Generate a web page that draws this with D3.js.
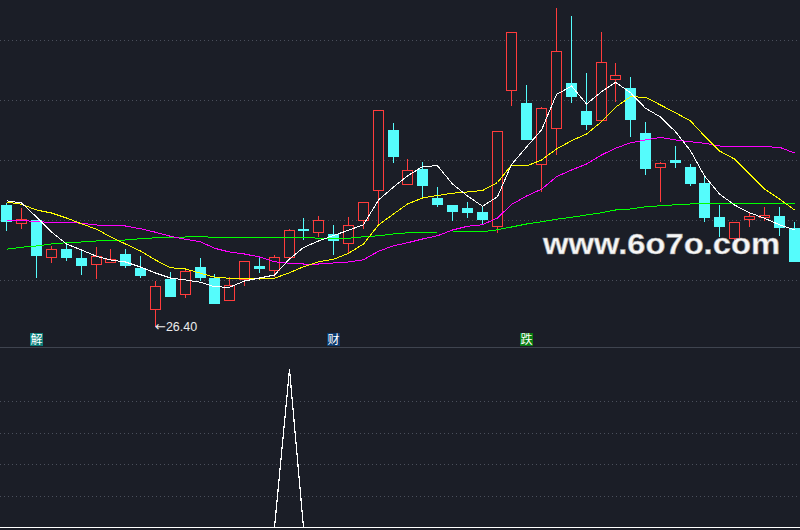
<!DOCTYPE html>
<html>
<head>
<meta charset="utf-8">
<script src="https://cdn.jsdelivr.net/npm/d3@7"></script>
<style>
  html, body { margin: 0; padding: 0; background: #1b1e27; }
  svg { display: block; }
</style>
</head>
<body>
<svg class="chart"></svg>
<script>
// daily candles
const opens = [31.27, 30.54, 30.67, 29.21, 29.51, 29.14, 28.90, 29.00, 29.31, 28.76,
  27.10, 28.31, 27.73, 28.78, 28.34, 27.46, 28.32, 28.83, 28.68, 29.18,
  30.32, 30.20, 30.10, 29.76, 30.66, 31.86, 34.27, 32.10, 32.71, 31.55,
  31.27, 31.15, 30.99, 30.44, 35.86, 35.35, 32.90, 34.34, 36.15, 35.03,
  34.66, 36.32, 35.95, 34.15, 32.77, 33.07, 32.79, 32.15, 30.79, 29.96,
  30.72, 30.79, 30.84, 30.36];
const highs = [31.36, 31.14, 30.67, 29.65, 29.80, 29.45, 29.58, 29.51, 29.51, 29.23,
  28.24, 28.60, 28.75, 29.14, 28.51, 28.38, 29.02, 29.17, 29.27, 30.31,
  30.75, 30.83, 30.46, 30.79, 31.38, 35.06, 34.55, 33.11, 32.98, 31.99,
  31.27, 31.39, 31.19, 34.22, 38.18, 36.07, 35.18, 39.15, 38.83, 36.55,
  38.19, 36.95, 36.39, 34.59, 32.99, 33.63, 32.90, 32.47, 31.26, 30.61,
  31.00, 31.19, 31.18, 30.60];
const lows = [30.24, 30.30, 28.37, 28.94, 29.04, 28.47, 28.31, 29.00, 28.74, 28.36,
  26.40, 27.60, 27.53, 28.24, 27.32, 27.46, 28.04, 28.56, 28.40, 29.18,
  29.87, 30.00, 29.27, 29.30, 30.32, 30.45, 32.96, 32.10, 31.58, 31.18,
  30.64, 30.76, 30.52, 30.14, 35.24, 33.88, 31.80, 33.26, 35.36, 34.27,
  34.60, 35.40, 34.00, 32.48, 31.40, 32.76, 32.04, 30.60, 30.00, 29.55,
  30.40, 30.63, 30.04, 29.00];
const closes = [30.60, 30.70, 29.24, 29.51, 29.16, 28.84, 29.22, 29.09, 28.84, 28.43,
  28.03, 27.60, 28.62, 28.37, 27.32, 28.06, 29.02, 28.72, 29.19, 30.26,
  30.24, 30.66, 29.84, 30.46, 31.38, 35.06, 33.20, 32.66, 32.04, 31.28,
  31.00, 30.96, 30.68, 34.22, 38.18, 33.88, 35.14, 37.42, 35.60, 34.48,
  36.98, 36.46, 34.68, 32.72, 32.95, 32.96, 32.12, 30.75, 30.40, 30.59,
  30.83, 30.88, 30.36, 29.00];

// moving averages
const ma5 = [31.44, 31.35, 30.79, 30.19, 29.71, 29.47, 29.22, 29.07, 28.99, 28.79,
  28.55, 28.35, 28.27, 28.18, 28.00, 27.98, 28.23, 28.35, 28.47, 29.11,
  29.57, 29.83, 30.05, 30.26, 30.48, 31.47, 31.99, 32.43, 32.81, 32.84,
  32.11, 31.63, 31.22, 31.60, 32.89, 33.59, 34.27, 35.69, 36.03, 35.31,
  35.80, 36.18, 35.76, 35.14, 34.79, 34.20, 33.44, 32.43, 31.71, 31.27,
  30.96, 30.74, 30.48, 30.27];
const ma10 = [31.39, 31.30, 31.07, 30.95, 30.75, 30.52, 30.30, 30.00, 29.71, 29.43,
  29.07, 28.76, 28.71, 28.54, 28.38, 28.34, 28.32, 28.31, 28.34, 28.56,
  28.80, 29.00, 29.10, 29.34, 29.71, 30.47, 30.91, 31.31, 31.55, 31.65,
  31.74, 31.79, 31.85, 32.17, 32.87, 32.83, 33.07, 33.51, 33.84, 34.11,
  34.60, 35.18, 35.60, 35.58, 35.27, 34.96, 34.63, 34.03, 33.43, 33.11,
  32.51, 31.91, 31.51, 31.07];
const ma20 = [30.67, 30.66, 30.60, 30.58, 30.58, 30.54, 30.47, 30.44, 30.43, 30.32,
  30.18, 30.02, 29.90, 29.80, 29.54, 29.39, 29.31, 29.19, 29.00, 28.94,
  28.91, 28.91, 28.95, 28.99, 29.08, 29.42, 29.64, 29.76, 29.91, 30.04,
  30.27, 30.42, 30.48, 30.75, 31.29, 31.63, 31.90, 32.40, 32.67, 32.91,
  33.27, 33.54, 33.76, 33.87, 33.97, 33.87, 33.80, 33.74, 33.63, 33.60,
  33.60, 33.60, 33.58, 33.35];
const ma60 = [29.50, 29.58, 29.63, 29.71, 29.76, 29.79, 29.83, 29.86, 29.87, 29.92,
  29.96, 29.98, 29.99, 30.00, 29.98, 29.98, 29.98, 29.98, 29.98, 29.98,
  29.98, 29.94, 29.94, 29.94, 30.00, 30.04, 30.11, 30.16, 30.18, 30.19,
  30.19, 30.20, 30.20, 30.28, 30.39, 30.51, 30.60, 30.70, 30.78, 30.87,
  30.96, 31.07, 31.11, 31.20, 31.24, 31.28, 31.31, 31.33, 31.34, 31.34,
  31.34, 31.34, 31.34, 31.34];

// lower indicator
const signal = [0, 0, 0, 0, 0, 0, 0, 0, 0, 0,
  0, 0, 0, 0, 0, 0, 0, 0, 0, 100,
  0, 0, 0, 0, 0, 0, 0, 0, 0, 0,
  0, 0, 0, 0, 0, 0, 0, 0, 0, 0,
  0, 0, 0, 0, 0, 0, 0, 0, 0, 0,
  0, 0, 0, 0];

const priceDomain = [25.59, 39.47];
const priceGrid = [37.87, 35.47, 33.07, 30.67, 28.27];
const signalDomain = [0, 100];
const signalGrid = [20, 40, 60, 80];

// flags under the candles
const flagIndex = [2, 22, 35];
const flagText = ['解', '财', '跌'];
const flagFill = ['#0b7d78', '#0b3a6e', '#0a7d12'];

const watermark = 'www.6o7o.com';

const width = 800;
const height = 530;
const priceBottom = 347;
const signalTop = 369.5;
const signalBottom = 527.5;

const red = '#ff3c3c';
const cyan = '#55fcfc';

const svg = d3.select('.chart')
  .attr('width', width)
  .attr('height', height);

svg.append('rect')
  .attr('width', width)
  .attr('height', height)
  .attr('fill', '#1b1e27');

const x = d3.scaleBand()
  .domain(d3.range(opens.length))
  .range([-1, 801])
  .paddingInner(0.26)
  .paddingOuter(0.13);

function cx(i) {
  return Math.round(x(i) + x.bandwidth() / 2);
}

const y = d3.scaleLinear()
  .domain(priceDomain)
  .range([priceBottom, 0]);

const y2 = d3.scaleLinear()
  .domain(signalDomain)
  .range([signalBottom, signalTop]);

// dotted grid
svg.append('g')
  .selectAll('line')
  .data(priceGrid.map(y).concat(signalGrid.map(y2)))
  .enter()
.append('line')
  .attr('x1', 0)
  .attr('x2', width)
  .attr('y1', function(d) { return Math.round(d) + 0.5; })
  .attr('y2', function(d) { return Math.round(d) + 0.5; })
  .attr('stroke', '#4a4f5b')
  .attr('stroke-dasharray', '1,3')
  .attr('shape-rendering', 'crispEdges');

svg.append('line')
  .attr('x1', 0)
  .attr('x2', width)
  .attr('y1', priceBottom + 0.5)
  .attr('y2', priceBottom + 0.5)
  .attr('stroke', '#3f444f')
  .attr('shape-rendering', 'crispEdges');

const candles = d3.range(opens.length).map(function(i) {
  return {i: i, open: opens[i], high: highs[i], low: lows[i], close: closes[i]};
});

const candle = svg.append('g')
  .selectAll('g')
  .data(candles)
  .enter()
.append('g')
  .attr('shape-rendering', 'crispEdges');

candle.append('line')
  .attr('x1', function(d) { return cx(d.i) + 0.5; })
  .attr('x2', function(d) { return cx(d.i) + 0.5; })
  .attr('y1', function(d) { return Math.round(y(d.high)); })
  .attr('y2', function(d) { return Math.round(y(d.low)); })
  .attr('stroke', function(d) { return d.close >= d.open ? red : cyan; });

candle.append('rect')
  .attr('x', function(d) { return d.close >= d.open ? cx(d.i) - 4.5 : cx(d.i) - 5; })
  .attr('y', function(d) {
    const t = Math.round(y(Math.max(d.open, d.close)));
    return d.close >= d.open ? t + 0.5 : t;
  })
  .attr('width', function(d) { return d.close >= d.open ? 10 : 11; })
  .attr('height', function(d) {
    const h = Math.round(y(Math.min(d.open, d.close))) - Math.round(y(Math.max(d.open, d.close)));
    return Math.max(h, 1);
  })
  .attr('fill', function(d) { return d.close >= d.open ? '#1b1e27' : cyan; })
  .attr('stroke', function(d) { return d.close >= d.open ? red : 'none'; });

// moving averages
const line = d3.line()
  .x(function(d, i) { return cx(i) + 0.5; })
  .y(function(d) { return y(d); });

const averages = [
  {values: ma60, color: '#00ff00'},
  {values: ma20, color: '#ff00ff'},
  {values: ma10, color: '#ffff00'},
  {values: ma5, color: '#ffffff'},
];

svg.append('g')
  .selectAll('path')
  .data(averages)
  .enter()
.append('path')
  .attr('d', function(d) { return line(d.values); })
  .attr('fill', 'none')
  .attr('stroke', function(d) { return d.color; })
  .attr('stroke-width', 1)
  .attr('shape-rendering', 'crispEdges');

// lowest low marker
const lowIndex = d3.minIndex(lows);
const lowLabel = svg.append('text')
  .attr('x', cx(lowIndex))
  .attr('y', Math.round(y(lows[lowIndex])))
  .attr('dy', '0.35em')
  .attr('fill', '#ececec')
  .style('font-family', '"Liberation Sans", Arial, sans-serif')
  .style('font-size', '12.5px');

lowLabel.append('tspan')
  .style('font-family', '"DejaVu Sans", sans-serif')
  .style('font-size', '13px')
  .text('\u2190');

lowLabel.append('tspan')
  .text(d3.format('.2f')(lows[lowIndex]));

// flags
const flag = svg.append('g')
  .selectAll('g')
  .data(flagIndex)
  .enter()
.append('g')
  .attr('transform', function(d) { return `translate(${cx(d) - 6}, 333)`; });

flag.append('rect')
  .attr('width', 13)
  .attr('height', 13)
  .attr('fill', function(d, i) { return flagFill[i]; });

flag.append('text')
  .attr('x', 6.5)
  .attr('y', 11)
  .attr('fill', '#ffffff')
  .style('text-anchor', 'middle')
  .style('font-family', '"Noto Sans CJK SC", sans-serif')
  .style('font-size', '12px')
  .text(function(d, i) { return flagText[i]; });

// lower panel
const signalLine = d3.line()
  .x(function(d, i) { return cx(i) + 0.5; })
  .y(function(d) { return y2(d); });

svg.append('path')
  .attr('d', signalLine(signal))
  .attr('fill', 'none')
  .attr('stroke', '#ffffff')
  .attr('stroke-width', 1.2)
  .attr('shape-rendering', 'crispEdges');

svg.append('line')
  .attr('x1', 0)
  .attr('x2', width)
  .attr('y1', y2(0))
  .attr('y2', y2(0))
  .attr('stroke', '#ffffff')
  .attr('shape-rendering', 'crispEdges');

// watermark
svg.append('text')
  .attr('x', 543)
  .attr('y', 254)
  .attr('fill', '#f6f6f6')
  .attr('stroke', '#9a9a9a')
  .attr('stroke-width', 0.6)
  .attr('textLength', 237)
  .attr('lengthAdjust', 'spacingAndGlyphs')
  .style('font-family', '"Liberation Sans", Arial, sans-serif')
  .style('font-weight', 'bold')
  .style('font-size', '30px')
  .text(watermark);
</script>
</body>
</html>
